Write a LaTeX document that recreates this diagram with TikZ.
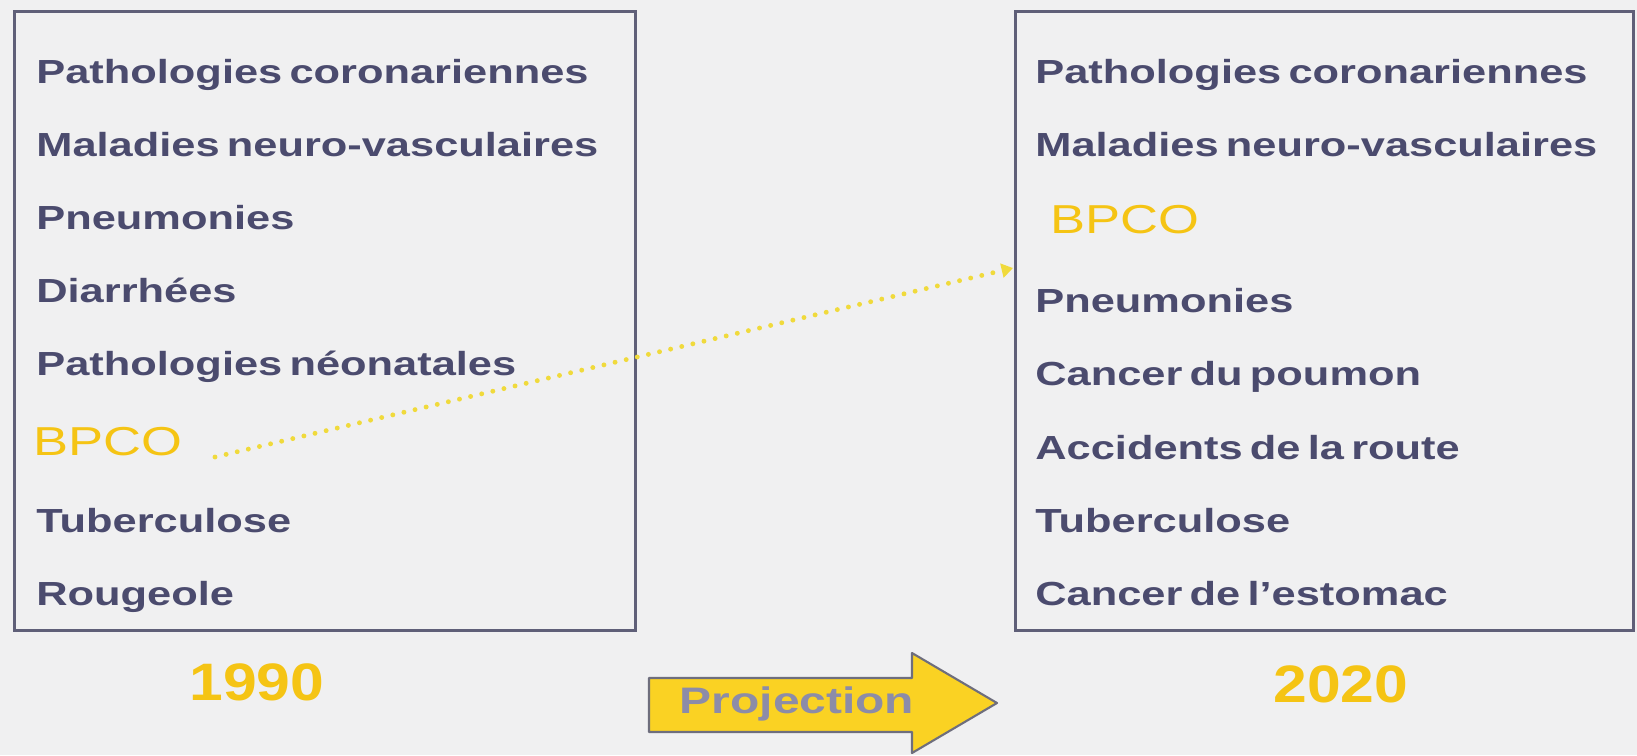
\documentclass[tikz,border=0pt]{standalone}
\usepackage{fontspec}
\setmainfont{Liberation Sans}
\newfontfamily\itemfont[FakeStretch=1.3,WordSpace=0.6]{Liberation Sans}
\newfontfamily\yearfont[FakeStretch=1.15]{Liberation Sans}
\usetikzlibrary{arrows.meta}
\definecolor{itemslate}{RGB}{75,75,110}
\definecolor{boxslate}{RGB}{95,95,120}
\definecolor{bpcoyellow}{RGB}{245,196,20}
\definecolor{dotyellow}{RGB}{240,218,60}
\definecolor{arrowyellow}{RGB}{250,210,35}
\definecolor{arrowgray}{RGB}{110,110,125}
\definecolor{projgray}{RGB}{140,140,168}
\definecolor{paper}{RGB}{240,240,241}

\tikzset{
  listbox/.style={draw=boxslate,line width=1.7pt,inner sep=0pt,anchor=north west},
  item/.style={anchor=base west,inner sep=0pt,text=itemslate,
    font=\itemfont\bfseries\fontsize{19}{22}\selectfont},
  bpco/.style={anchor=base west,inner sep=0pt,text=bpcoyellow,
    font=\itemfont\fontsize{23}{26}\selectfont},
  year/.style={anchor=base,inner sep=0pt,text=bpcoyellow,
    font=\yearfont\bfseries\fontsize{30}{32}\selectfont}
}

\begin{document}
\begin{tikzpicture}[x=0.02cm,y=-0.02cm]
  \fill[paper] (0,0) rectangle (1637,755);
  \useasboundingbox (0,0) rectangle (1637,755);

  \node[listbox,minimum width=12.42cm,minimum height=12.38cm] (box1990) at (13,10) {};
  \node[listbox,minimum width=12.36cm,minimum height=12.38cm] (box2020) at (1014,10) {};

  % 1990:
  \node[item] (coro1990) at (36,83) {Pathologies coronariennes};
  \node[item] (neuro1990) at (36,156) {Maladies neuro-vasculaires};
  \node[item] (pneu1990) at (36,229) {Pneumonies};
  \node[item] (diar1990) at (36,302) {Diarrhées};
  \node[item] (neo1990) at (36,375) {Pathologies néonatales};
  \node[bpco] (bpco1990) at (33,455) {BPCO};
  \node[item] (tuber1990) at (36,532) {Tuberculose};
  \node[item] (rouge1990) at (36,605) {Rougeole};

  % 2020:
  \node[item] (coro2020) at (1035,83) {Pathologies coronariennes};
  \node[item] (neuro2020) at (1035,156) {Maladies neuro-vasculaires};
  \node[bpco] (bpco2020) at (1050,233) {BPCO};
  \node[item] (pneu2020) at (1035,312) {Pneumonies};
  \node[item] (poumon2020) at (1035,385) {Cancer du poumon};
  \node[item] (route2020) at (1035,459) {Accidents de la route};
  \node[item] (tuber2020) at (1035,532) {Tuberculose};
  \node[item] (estomac2020) at (1035,605) {Cancer de l’estomac};

  \node[year] (y1990) at (257,700) {1990};
  \node[year] (y2020) at (1341,702) {2020};

  % BPCO moves up:
  \coordinate (dotstart) at (215,457);
  \coordinate (dotend) at (1013,268);
  \draw[dotyellow,line width=2.8pt,line cap=round,dash pattern=on 0pt off 6.5pt,
    -{Triangle[length=6.5pt,width=8pt]}] (dotstart) -- (dotend);

  % projection arrow:
  \fill[arrowyellow,draw=arrowgray,line width=1.2pt,line join=round]
    (649,678) -- (912,678) -- (912,653) -- (997,703) -- (912,753)
    -- (912,732) -- (649,732) -- cycle;
  \node[inner sep=0pt,text=projgray,font=\itemfont\bfseries\fontsize{21}{24}\selectfont]
    (proj) at (797,704) {Projection};
\end{tikzpicture}
\end{document}
